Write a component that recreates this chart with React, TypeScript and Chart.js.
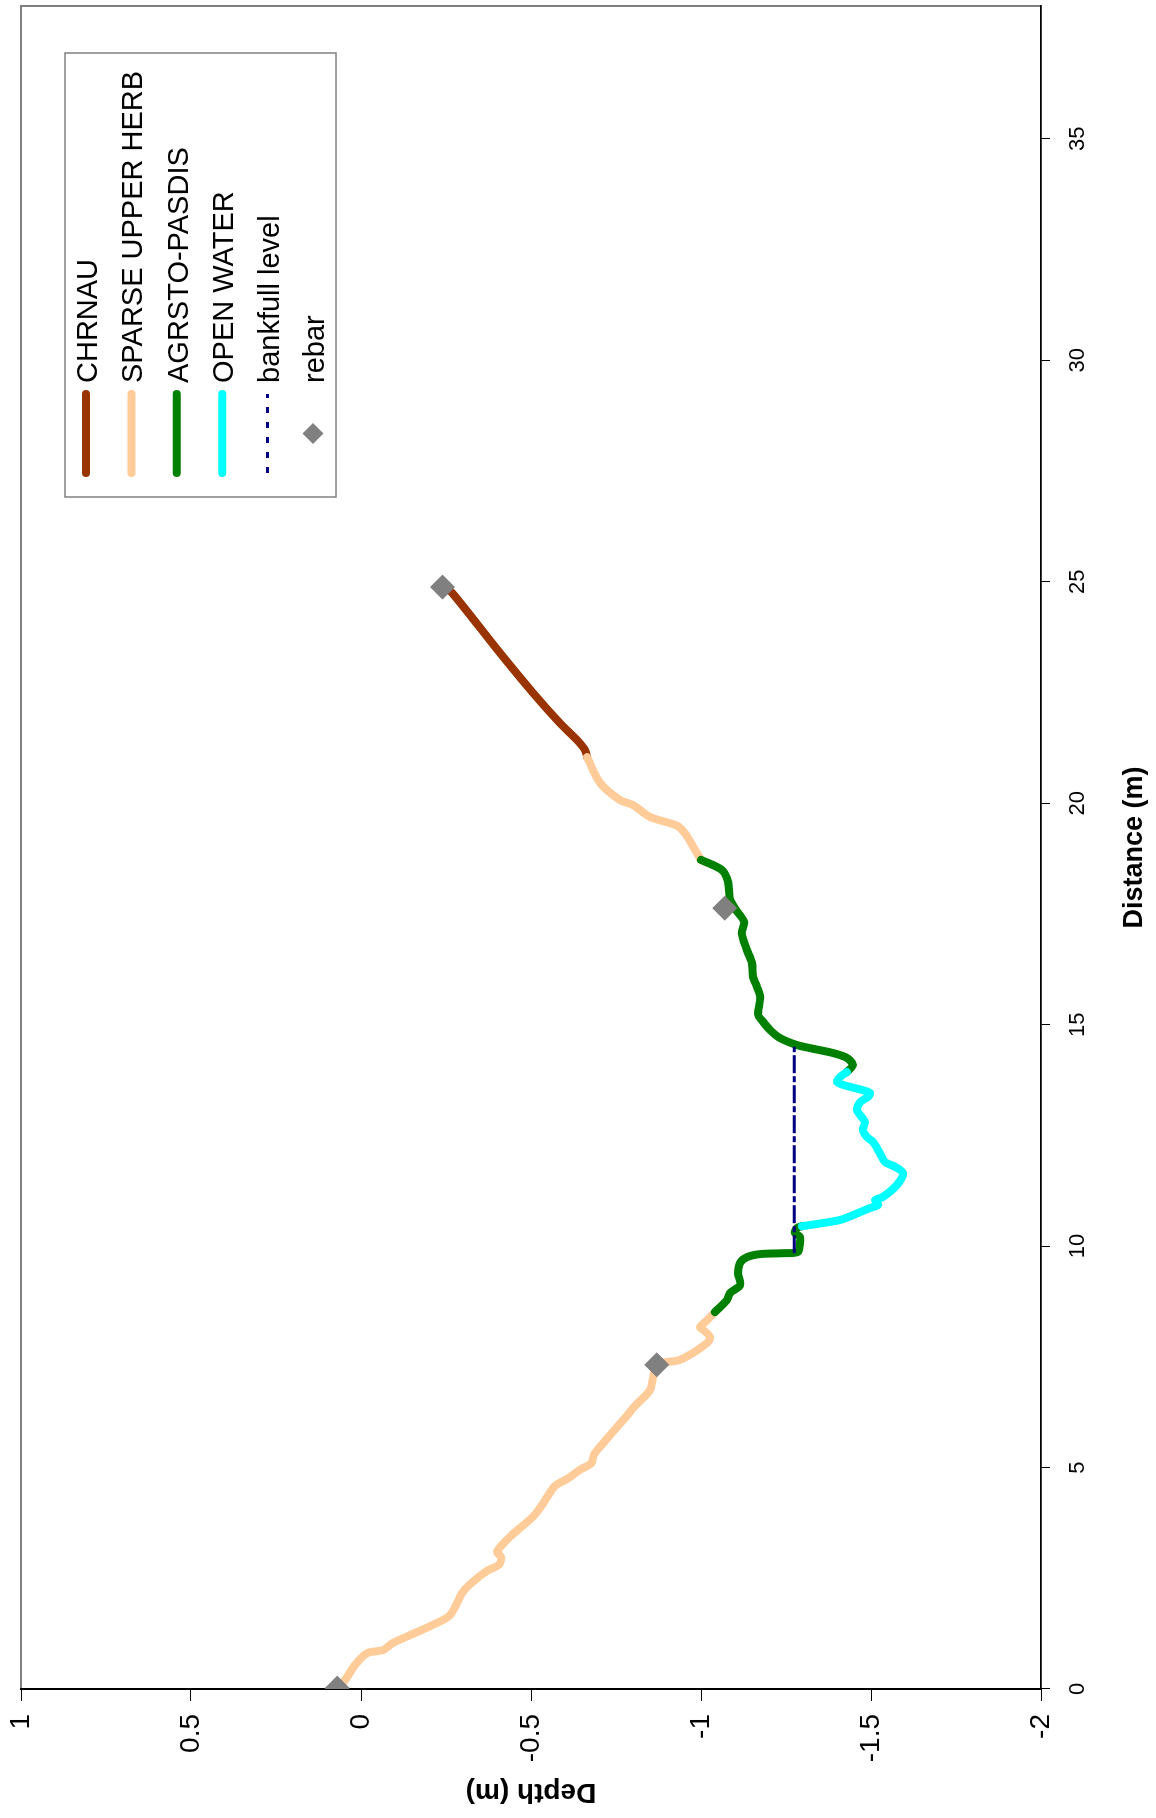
import React, { useEffect, useRef } from 'react';
import { Chart, registerables } from 'chart.js';

Chart.register(...registerables);

// ---------- data (distance m, depth m) ----------
const distanceTicks = [0, 5, 10, 15, 20, 25, 30, 35];
const depthTicks = [1, 0.5, 0, -0.5, -1, -1.5, -2];

const legendLabels = ['CHRNAU', 'SPARSE UPPER HERB', 'AGRSTO-PASDIS', 'OPEN WATER', 'bankfull level', 'rebar'];

const chrnau: [number, number][] = [
  [21.04, -0.665], [21.2, -0.659], [21.43, -0.635], [21.81, -0.585], [22.49, -0.506],
  [23.39, -0.409], [24.75, -0.268], [24.86, -0.248],
];

const sparseHerbA: [number, number][] = [
  [0.02, 0.071], [0.2, 0.047], [0.54, 0.018], [0.81, -0.018], [0.88, -0.065], [1.04, -0.094],
  [1.45, -0.212], [1.67, -0.262], [2.15, -0.296], [2.33, -0.316], [2.67, -0.371], [2.8, -0.405],
  [2.98, -0.412], [3.1, -0.4], [3.45, -0.44], [3.9, -0.507], [4.24, -0.54], [4.58, -0.57],
  [4.76, -0.61], [4.95, -0.644], [5.1, -0.678], [5.29, -0.685], [5.55, -0.712], [5.79, -0.739],
  [6.15, -0.78], [6.41, -0.808], [6.75, -0.85], [7.32, -0.871], [7.43, -0.938], [7.81, -1.018],
  [7.95, -1.026], [8.11, -1.006], [8.17, -0.997], [8.33, -1.018], [8.51, -1.041],
];

const sparseHerbB: [number, number][] = [
  [18.72, -1.0], [19.03, -0.976], [19.3, -0.955], [19.49, -0.93], [19.69, -0.85],
  [19.96, -0.8], [20.07, -0.762], [20.46, -0.703], [21.04, -0.665],
];

const agrstoA: [number, number][] = [
  [8.51, -1.041], [8.78, -1.076], [8.94, -1.085], [9.12, -1.115], [9.39, -1.109], [9.62, -1.115],
  [9.75, -1.135], [9.82, -1.174], [9.84, -1.241], [9.87, -1.285], [10.07, -1.291], [10.21, -1.291],
  [10.3, -1.276], [10.41, -1.282], [10.45, -1.297],
];

const agrstoB: [number, number][] = [
  [13.93, -1.429], [14.09, -1.447], [14.25, -1.429], [14.36, -1.388], [14.47, -1.321],
  [14.54, -1.282], [14.7, -1.232], [14.88, -1.203], [15.1, -1.179], [15.22, -1.168],
  [15.62, -1.174], [15.85, -1.165], [16.08, -1.153], [16.39, -1.15], [16.69, -1.135],
  [17.07, -1.12], [17.32, -1.127], [17.59, -1.103], [17.84, -1.085], [18.24, -1.079],
  [18.5, -1.06], [18.72, -1.0],
];

const openWater: [number, number][] = [
  [10.45, -1.297], [10.5, -1.341], [10.59, -1.409], [10.7, -1.447], [10.86, -1.497], [10.93, -1.521],
  [11.04, -1.512], [11.11, -1.535], [11.38, -1.576], [11.65, -1.594], [11.79, -1.571], [11.9, -1.541],
  [12.1, -1.526], [12.35, -1.506], [12.46, -1.488], [12.62, -1.476], [12.8, -1.482], [12.96, -1.468],
  [13.07, -1.459], [13.25, -1.468], [13.37, -1.491], [13.46, -1.497], [13.52, -1.476], [13.64, -1.418],
  [13.71, -1.4], [13.82, -1.409], [13.93, -1.429],
];

const bankfull: [number, number][] = [[9.84, -1.274], [14.5, -1.274]];

const rebar: [number, number][] = [[0.02, 0.07], [7.32, -0.87], [17.63, -1.07], [24.88, -0.24]];

// ---------- styles ----------
const FONT = '"Liberation Sans", Arial, sans-serif';
const colors = ['#993300', '#FFCC99', '#008000', '#00FFFF', '#000080', '#808080'];

const toPoints = (pairs: [number, number][]) => pairs.map(([x, y]) => ({ x, y }));
const withGap = (a: [number, number][], b: [number, number][]) => [
  ...toPoints(a),
  { x: (a[a.length - 1][0] + b[0][0]) / 2, y: null as any },
  ...toPoints(b),
];

const plotBorderPlugin = {
  id: 'plotBorder',
  beforeDraw(chart: any) {
    const { ctx, chartArea, width, height } = chart;
    ctx.save();
    ctx.fillStyle = '#ffffff';
    ctx.fillRect(0, 0, width, height);
    ctx.strokeStyle = '#808080';
    ctx.lineWidth = 2;
    ctx.strokeRect(chartArea.left, chartArea.top, chartArea.right - chartArea.left, chartArea.bottom - chartArea.top);
    ctx.restore();
  },
};

const boxLegendPlugin = {
  id: 'boxLegend',
  afterDraw(chart: any) {
    const { ctx, chartArea } = chart;
    const x0 = chartArea.right - 491;
    const y0 = chartArea.top + 44;
    const w = 444;
    const h = 271;
    ctx.save();
    ctx.fillStyle = '#ffffff';
    ctx.fillRect(x0, y0, w, h);
    ctx.strokeStyle = '#808080';
    ctx.lineWidth = 1.5;
    ctx.strokeRect(x0, y0, w, h);
    legendLabels.forEach((label, i) => {
      const cy = y0 + 21 + i * 45.4;
      const sx0 = x0 + 20;
      const sx1 = x0 + 107;
      ctx.save();
      if (i < 4) {
        ctx.strokeStyle = colors[i];
        ctx.lineWidth = 8;
        ctx.lineCap = 'round';
        ctx.beginPath();
        ctx.moveTo(sx0 + 4, cy);
        ctx.lineTo(sx1 - 4, cy);
        ctx.stroke();
      } else if (i === 4) {
        ctx.strokeStyle = colors[i];
        ctx.lineWidth = 3;
        ctx.setLineDash([6, 9]);
        ctx.beginPath();
        ctx.moveTo(sx0 + 4, cy);
        ctx.lineTo(sx1 - 4, cy);
        ctx.stroke();
      } else {
        const cx = (sx0 + sx1) / 2;
        const r = 10.5;
        ctx.fillStyle = colors[i];
        ctx.beginPath();
        ctx.moveTo(cx - r, cy);
        ctx.lineTo(cx, cy - r);
        ctx.lineTo(cx + r, cy);
        ctx.lineTo(cx, cy + r);
        ctx.closePath();
        ctx.fill();
      }
      ctx.restore();
      ctx.fillStyle = '#000000';
      ctx.font = `29px ${FONT}`;
      ctx.textAlign = 'left';
      ctx.textBaseline = 'middle';
      ctx.fillText(label, x0 + 114, cy + 3);
    });
    ctx.restore();
  },
};

export default function App() {
  const canvasRef = useRef<HTMLCanvasElement | null>(null);

  useEffect(() => {
    document.body.style.margin = '0';
    document.body.style.overflow = 'hidden';
    const canvas = canvasRef.current;
    if (!canvas) return;

    const lineCommon = {
      borderWidth: 8,
      borderCapStyle: 'round',
      borderJoinStyle: 'round',
      tension: 0.3,
      pointRadius: 0,
      pointHoverRadius: 0,
      fill: false,
      spanGaps: false,
    };

    const chart = new Chart(canvas, {
      type: 'line',
      data: {
        datasets: [
          {
            label: legendLabels[5],
            data: toPoints(rebar),
            showLine: false,
            pointStyle: 'rectRot',
            pointRadius: 12.5,
            pointHoverRadius: 12.5,
            pointBackgroundColor: colors[5],
            pointBorderColor: colors[5],
            pointBorderWidth: 0,
            borderColor: colors[5],
            order: 0,
          },
          {
            label: legendLabels[4],
            data: toPoints(bankfull),
            borderColor: colors[4],
            borderWidth: 3,
            borderDash: [18, 3, 6, 3],
            pointRadius: 0,
            tension: 0,
            fill: false,
            order: 1,
          },
          { label: legendLabels[3], data: toPoints(openWater), borderColor: colors[3], ...lineCommon, order: 2 },
          { label: legendLabels[2], data: withGap(agrstoA, agrstoB), borderColor: colors[2], ...lineCommon, order: 3 },
          { label: legendLabels[1], data: withGap(sparseHerbA, sparseHerbB), borderColor: colors[1], ...lineCommon, order: 4 },
          { label: legendLabels[0], data: toPoints(chrnau), borderColor: colors[0], ...lineCommon, order: 5 },
        ] as any,
      },
      options: {
        responsive: false,
        animation: false,
        devicePixelRatio: 1,
        events: [],
        layout: { autoPadding: false, padding: { top: 21, right: 6, left: 0, bottom: 0 } },
        plugins: {
          legend: { display: false },
          tooltip: { enabled: false },
        },
        scales: {
          x: {
            type: 'linear',
            position: 'bottom',
            min: 0,
            max: 38,
            afterBuildTicks: (scale: any) => {
              scale.ticks = distanceTicks.map((v) => ({ value: v }));
            },
            afterFit: (scale: any) => {
              scale.height = 115;
              scale.paddingLeft = 0;
              scale.paddingRight = 0;
            },
            ticks: {
              color: '#000',
              font: { family: FONT, size: 22 },
              padding: 15,
              maxRotation: 0,
              autoSkip: false,
              callback: (v: any) => String(v),
            },
            grid: {
              display: true,
              drawOnChartArea: false,
              drawTicks: true,
              tickLength: 9,
              color: '#000',
              lineWidth: 1,
            },
            border: { display: true, color: '#000', width: 1.5 },
            title: {
              display: true,
              text: 'Distance (m)',
              color: '#000',
              font: { family: FONT, size: 27, weight: 'bold' },
              padding: { top: 0, bottom: 5 },
            },
          },
          y: {
            type: 'linear',
            position: 'left',
            min: -2,
            max: 1,
            afterBuildTicks: (scale: any) => {
              scale.ticks = depthTicks.map((v) => ({ value: v }));
            },
            afterFit: (scale: any) => {
              scale.width = 129;
              scale.paddingTop = 0;
              scale.paddingBottom = 0;
            },
            ticks: {
              color: '#000',
              font: { family: FONT, size: 28 },
              padding: 13,
              autoSkip: false,
              callback: (v: any) => String(v),
            },
            grid: {
              display: true,
              drawOnChartArea: false,
              drawTicks: true,
              tickLength: 12,
              color: '#000',
              lineWidth: 1,
            },
            border: { display: true, color: '#000', width: 2 },
            title: {
              display: true,
              text: 'Depth (m)',
              color: '#000',
              font: { family: FONT, size: 28, weight: 'bold' },
              padding: { top: 9, bottom: 0 },
            },
          },
        },
      } as any,
      plugins: [plotBorderPlugin, boxLegendPlugin],
    });

    return () => {
      chart.destroy();
    };
  }, []);

  return (
    <div
      style={{
        position: 'absolute',
        left: 0,
        top: 0,
        width: 1818,
        height: 1156,
        transformOrigin: '0 0',
        transform: 'translate(0px, 1818px) rotate(-90deg)',
        background: '#fff',
      }}
    >
      <canvas ref={canvasRef} width={1818} height={1156} style={{ display: 'block', width: 1818, height: 1156 }} />
    </div>
  );
}
